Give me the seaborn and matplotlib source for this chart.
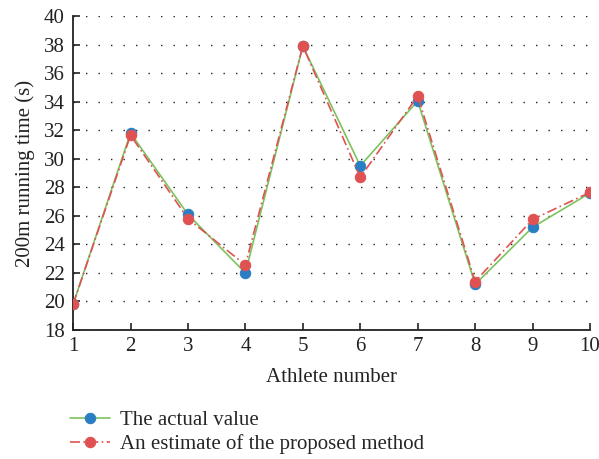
import matplotlib
matplotlib.use("Agg")
import matplotlib.pyplot as plt
import seaborn as sns
import pandas as pd

athletes = [1, 2, 3, 4, 5, 6, 7, 8, 9, 10]
actual = [19.8, 31.8, 26.1, 22.0, 37.9, 29.5, 34.05, 21.2, 25.2, 27.6]
estimate = [19.8, 31.65, 25.8, 22.55, 37.9, 28.7, 34.4, 21.4, 25.75, 27.65]
series_names = ["The actual value", "An estimate of the proposed method"]
y_ticks = list(range(18, 41, 2))

sns.set_theme(style="white")
plt.rcParams['font.family'] = ['Liberation Serif', 'DejaVu Serif']

df = pd.DataFrame({"athlete": athletes, "actual": actual, "estimate": estimate})

fig = plt.figure(figsize=(5.99, 4.59), dpi=100)
ax = fig.add_axes([0.122, 0.281, 0.863, 0.684])

green = "#7cc35f"
blue = "#2a7ec3"
red = "#e05252"
txt = "#222222"
fs = 15

sns.lineplot(data=df, x="athlete", y="actual", ax=ax, color=green, lw=1.2,
             marker="o", markersize=7.5, markerfacecolor=blue, markeredgecolor=blue,
             label=series_names[0], zorder=3)
sns.lineplot(data=df, x="athlete", y="estimate", ax=ax, color=red, lw=1.2,
             linestyle=(0, (6, 2, 1, 2)),
             marker="o", markersize=7.5, markerfacecolor=red, markeredgecolor=red,
             label=series_names[1], zorder=4)

ax.set_xlim(1, 10)
ax.set_ylim(18, 40)
ax.set_xticks(athletes)
ax.set_yticks(y_ticks)
ax.tick_params(direction="in", length=5, width=1.2, labelsize=fs, colors=txt,
               bottom=True, left=True)
ax.tick_params(axis="x", pad=5)
ax.tick_params(axis="y", pad=6)
for s in ["top", "right"]:
    ax.spines[s].set_visible(False)
for s in ["left", "bottom"]:
    ax.spines[s].set_color(txt)
    ax.spines[s].set_linewidth(1.3)
ax.yaxis.grid(True, linestyle=(0, (1, 8)), color=txt, lw=1.0)
ax.xaxis.grid(False)
ax.set_xlabel("Athlete number", fontsize=fs, color=txt, labelpad=9)
ax.set_ylabel("200m running time (s)", fontsize=fs, color=txt, labelpad=6)

handles, labels = ax.get_legend_handles_labels()
ax.get_legend().remove()
fig.legend(handles, labels, loc="upper left", bbox_to_anchor=(0.117, 0.105),
           frameon=False, fontsize=fs, handlelength=1.9, handletextpad=0.5,
           labelspacing=0.2, borderaxespad=0, borderpad=0)

fig.savefig("out.png", dpi=100)
